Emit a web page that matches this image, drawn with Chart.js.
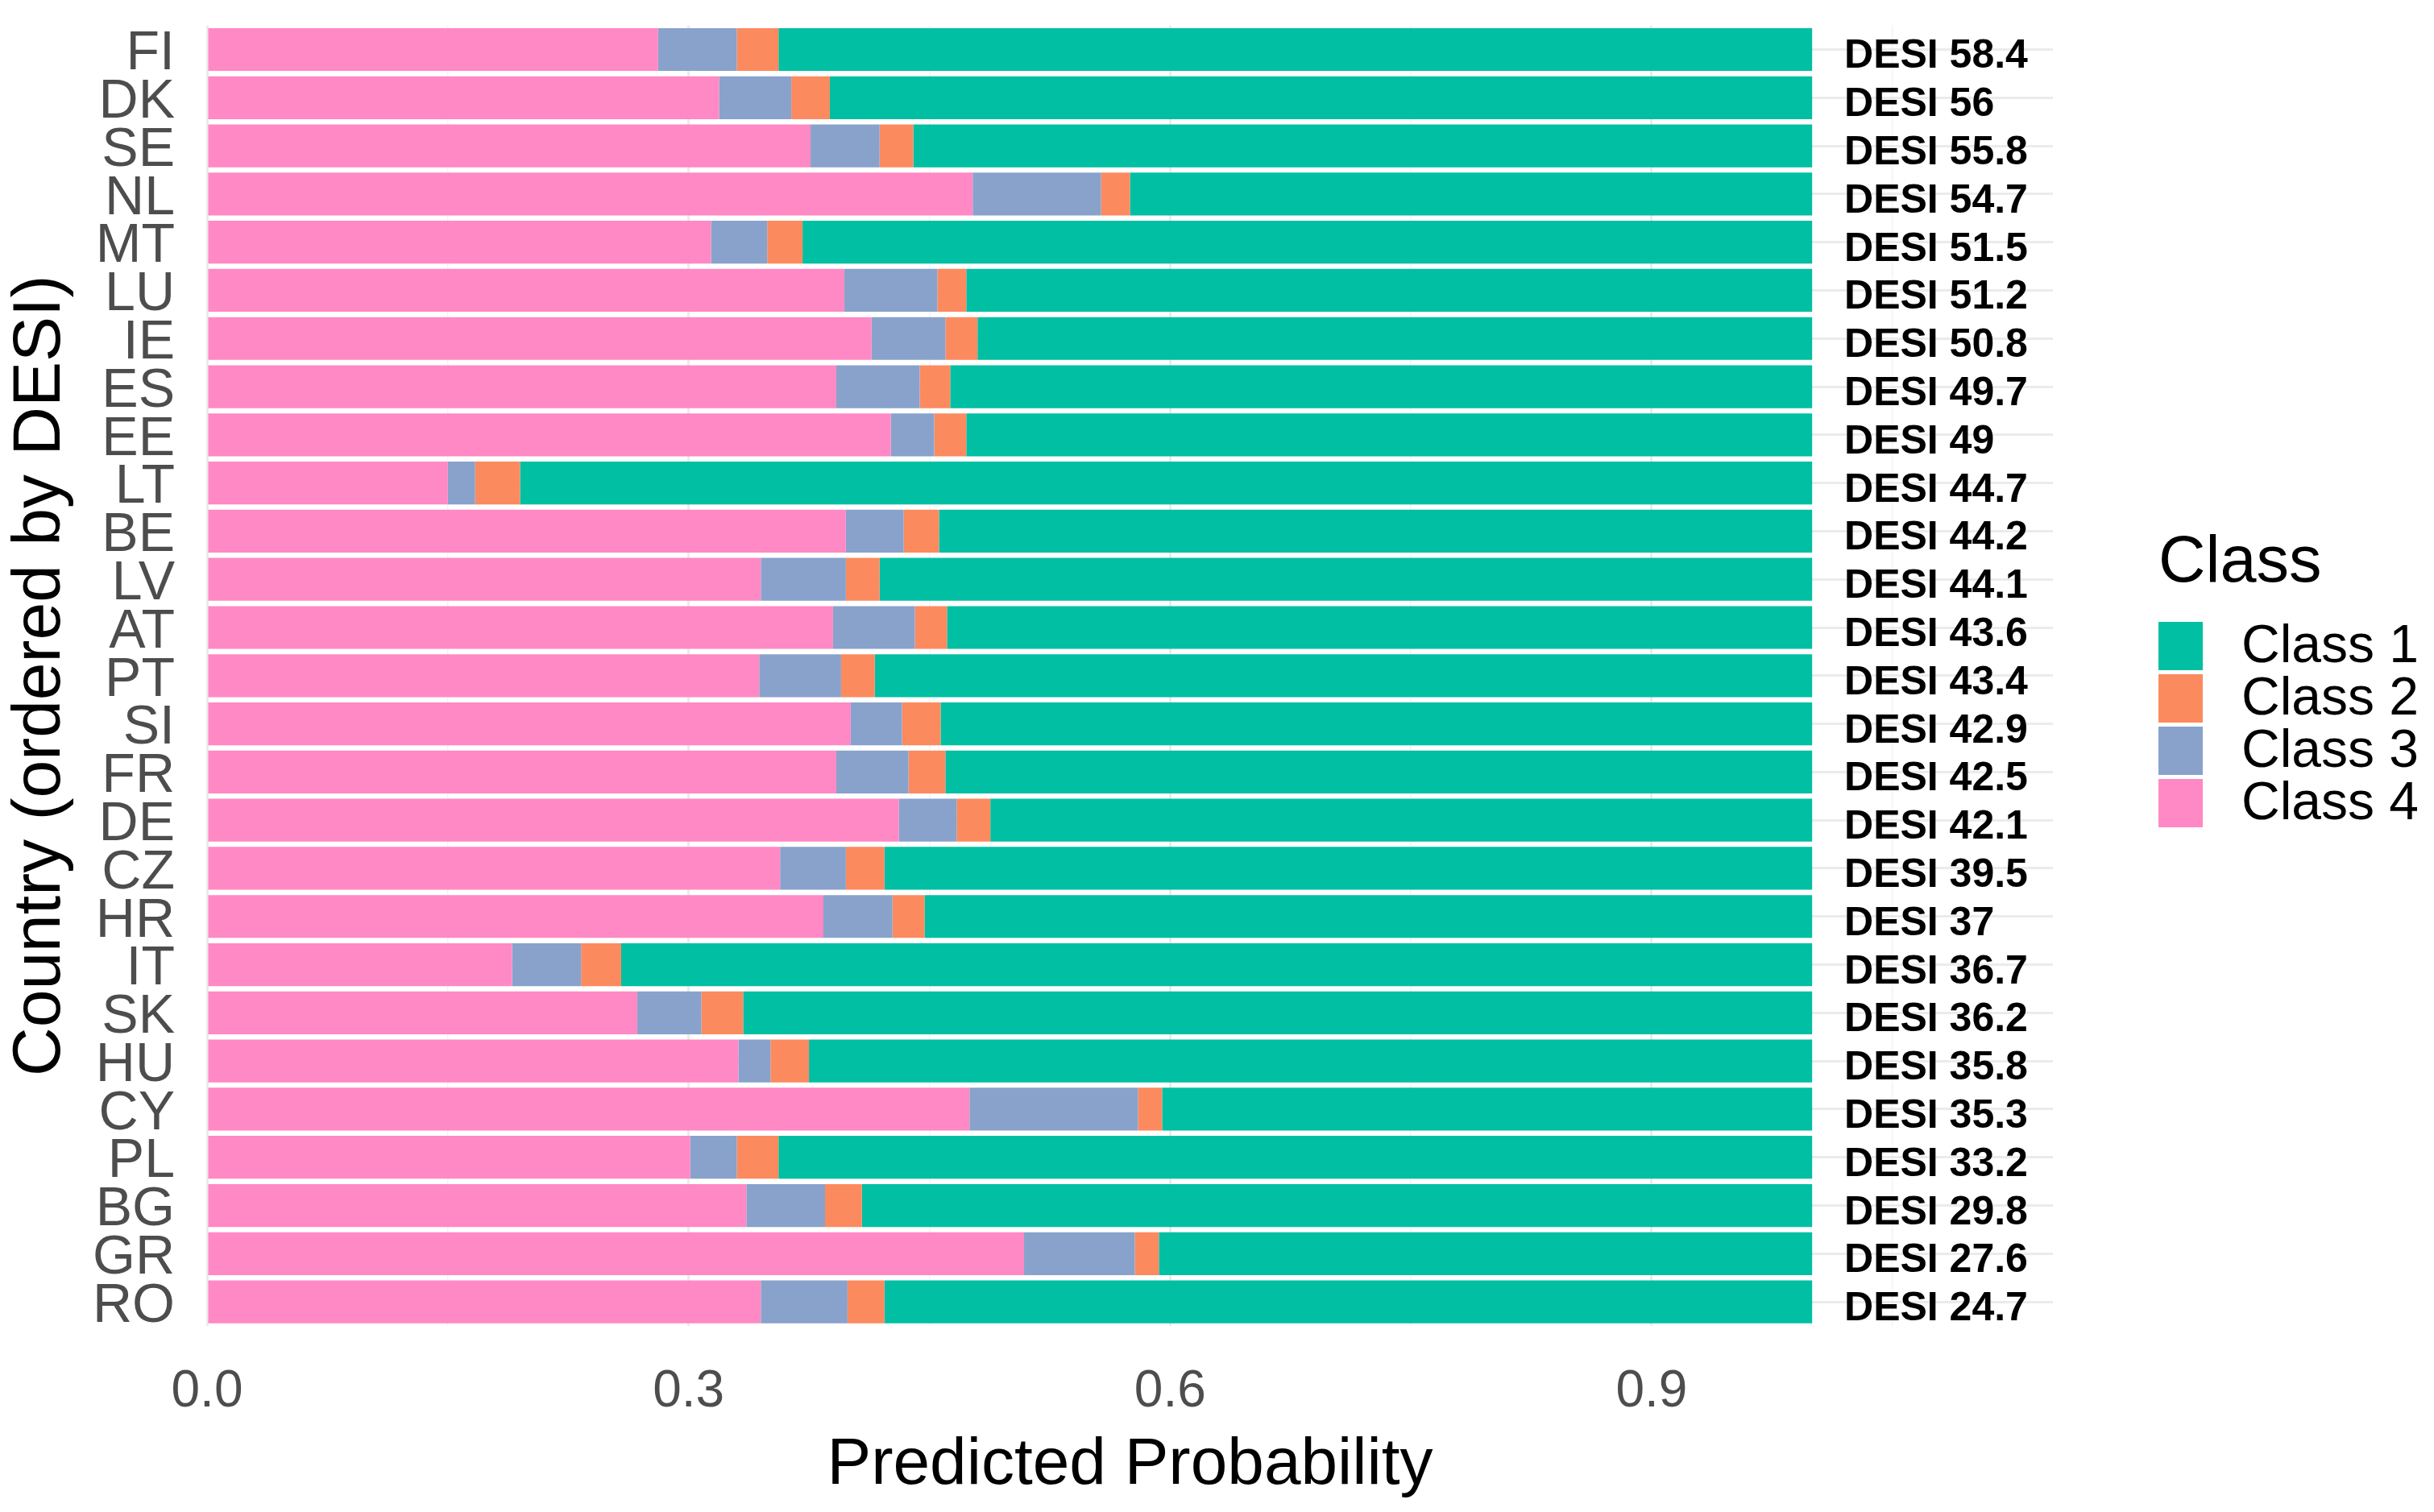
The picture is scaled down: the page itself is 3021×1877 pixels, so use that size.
<!DOCTYPE html>
<html>
<head>
<meta charset="utf-8">
<script src="https://cdn.jsdelivr.net/npm/chart.js@4.4.1/dist/chart.umd.min.js"></script>
<style>
  html, body { margin: 0; padding: 0; background: #fff; }
  canvas { display: block; }
</style>
</head>
<body>
<canvas id="chart" width="3021" height="1877"></canvas>
<script>
// countries ordered by DESI score, top to bottom
const countries = ['FI', 'DK', 'SE', 'NL', 'MT', 'LU', 'IE', 'ES', 'EE', 'LT', 'BE', 'LV', 'AT', 'PT',
  'SI', 'FR', 'DE', 'CZ', 'HR', 'IT', 'SK', 'HU', 'CY', 'PL', 'BG', 'GR', 'RO'];
const desiScores = [58.4, 56, 55.8, 54.7, 51.5, 51.2, 50.8, 49.7, 49, 44.7, 44.2, 44.1, 43.6, 43.4,
  42.9, 42.5, 42.1, 39.5, 37, 36.7, 36.2, 35.8, 35.3, 33.2, 29.8, 27.6, 24.7];

// predicted probability per class
const class4 = [0.281, 0.319, 0.376, 0.477, 0.314, 0.397, 0.414, 0.392, 0.426, 0.150, 0.398, 0.345, 0.390, 0.344,
  0.401, 0.392, 0.431, 0.357, 0.384, 0.190, 0.268, 0.331, 0.475, 0.301, 0.336, 0.509, 0.345];
const class3 = [0.049, 0.045, 0.043, 0.080, 0.035, 0.058, 0.046, 0.052, 0.027, 0.017, 0.036, 0.053, 0.051, 0.051,
  0.032, 0.045, 0.036, 0.041, 0.043, 0.043, 0.040, 0.020, 0.105, 0.029, 0.049, 0.069, 0.054];
const class2 = [0.026, 0.024, 0.021, 0.018, 0.022, 0.018, 0.020, 0.019, 0.020, 0.028, 0.022, 0.021, 0.020, 0.021,
  0.024, 0.023, 0.021, 0.024, 0.020, 0.025, 0.026, 0.024, 0.015, 0.026, 0.023, 0.015, 0.023];
const class1 = [0.644, 0.612, 0.560, 0.425, 0.629, 0.527, 0.520, 0.537, 0.527, 0.805, 0.544, 0.581, 0.539, 0.584,
  0.543, 0.540, 0.512, 0.578, 0.553, 0.742, 0.666, 0.625, 0.405, 0.644, 0.592, 0.407, 0.578];

const xGridValues = [0, 0.15, 0.3, 0.45, 0.6, 0.75, 0.9, 1.05];
const xLabelValues = [0, 0.3, 0.6, 0.9];

const FONT = '"Liberation Sans", Arial, sans-serif';
const colors = {
  'Class 1': '#00BFA3',
  'Class 2': '#FC8A5F',
  'Class 3': '#88A2CC',
  'Class 4': '#FF89C4'
};

const isMajor = v => xLabelValues.some(m => Math.abs(m - v) < 1e-6);

// DESI score text at the end of each row
const desiLabels = {
  id: 'desiLabels',
  afterDatasetsDraw(chart) {
    const { ctx, scales: { x, y } } = chart;
    ctx.save();
    ctx.font = 'bold 50px ' + FONT;
    ctx.fillStyle = '#000';
    ctx.textAlign = 'left';
    ctx.textBaseline = 'alphabetic';
    desiScores.forEach((d, i) => {
      ctx.fillText('DESI ' + d, x.getPixelForValue(1.02), y.getPixelForValue(i) + 23);
    });
    ctx.restore();
  }
};

// ggplot-like legend on the right
const classLegend = {
  id: 'classLegend',
  afterDraw(chart) {
    const { ctx, chartArea } = chart;
    const left = chartArea.right + 131;
    ctx.save();
    ctx.fillStyle = '#000';
    ctx.textBaseline = 'alphabetic';
    ctx.font = '81px ' + FONT;
    ctx.fillText('Class', left, 722);
    ctx.font = '66px ' + FONT;
    ctx.textBaseline = 'middle';
    ['Class 1', 'Class 2', 'Class 3', 'Class 4'].forEach((name, i) => {
      const top = 772 + i * 65;
      ctx.fillStyle = colors[name];
      ctx.fillRect(left, top, 55, 60);
      ctx.fillStyle = '#000';
      ctx.fillText(name, left + 103, top + 32);
    });
    ctx.restore();
  }
};

new Chart(document.getElementById('chart'), {
  type: 'bar',
  data: {
    labels: countries,
    datasets: [
      { label: 'Class 4', data: class4, backgroundColor: colors['Class 4'] },
      { label: 'Class 3', data: class3, backgroundColor: colors['Class 3'] },
      { label: 'Class 2', data: class2, backgroundColor: colors['Class 2'] },
      { label: 'Class 1', data: class1, backgroundColor: colors['Class 1'] }
    ]
  },
  options: {
    indexAxis: 'y',
    responsive: false,
    animation: false,
    devicePixelRatio: 1,
    datasets: { bar: { categoryPercentage: 1, barPercentage: 0.89, borderWidth: 0 } },
    layout: { padding: { left: 0, right: 473, top: 31.6, bottom: 0 } },
    plugins: { legend: { display: false }, tooltip: { enabled: false } },
    scales: {
      x: {
        type: 'linear',
        stacked: true,
        min: 0,
        max: 1.15,
        afterBuildTicks: scale => { scale.ticks = xGridValues.map(v => ({ value: v })); },
        afterFit: scale => { scale.height = 231; },
        border: { display: false },
        grid: {
          drawTicks: false,
          color: ctx => isMajor(ctx.tick.value) ? '#EBEBEB' : '#F3F3F3',
          lineWidth: ctx => isMajor(ctx.tick.value) ? 3 : 1.5
        },
        ticks: {
          autoSkip: false,
          maxRotation: 0,
          padding: 44,
          color: '#4D4D4D',
          font: { family: FONT, size: 64 },
          callback: v => isMajor(v) ? v.toFixed(1) : ''
        },
        title: {
          display: true,
          text: 'Predicted Probability',
          color: '#000',
          font: { family: FONT, size: 82 },
          padding: { top: 0, bottom: 8 }
        }
      },
      y: {
        type: 'category',
        stacked: true,
        offset: true,
        afterFit: scale => {
          scale.width = 257;
          scale.paddingTop = 0;
          scale.paddingBottom = 0;
        },
        border: { display: false },
        grid: { offset: false, drawTicks: false, color: '#EBEBEB', lineWidth: 3 },
        ticks: {
          autoSkip: false,
          padding: 40,
          labelOffset: 6,
          color: '#4D4D4D',
          font: { family: FONT, size: 68 }
        },
        title: {
          display: true,
          text: 'Country (ordered by DESI)',
          color: '#000',
          font: { family: FONT, size: 84 },
          padding: { top: 0, bottom: 0 }
        }
      }
    }
  },
  plugins: [desiLabels, classLegend]
});
</script>
</body>
</html>
